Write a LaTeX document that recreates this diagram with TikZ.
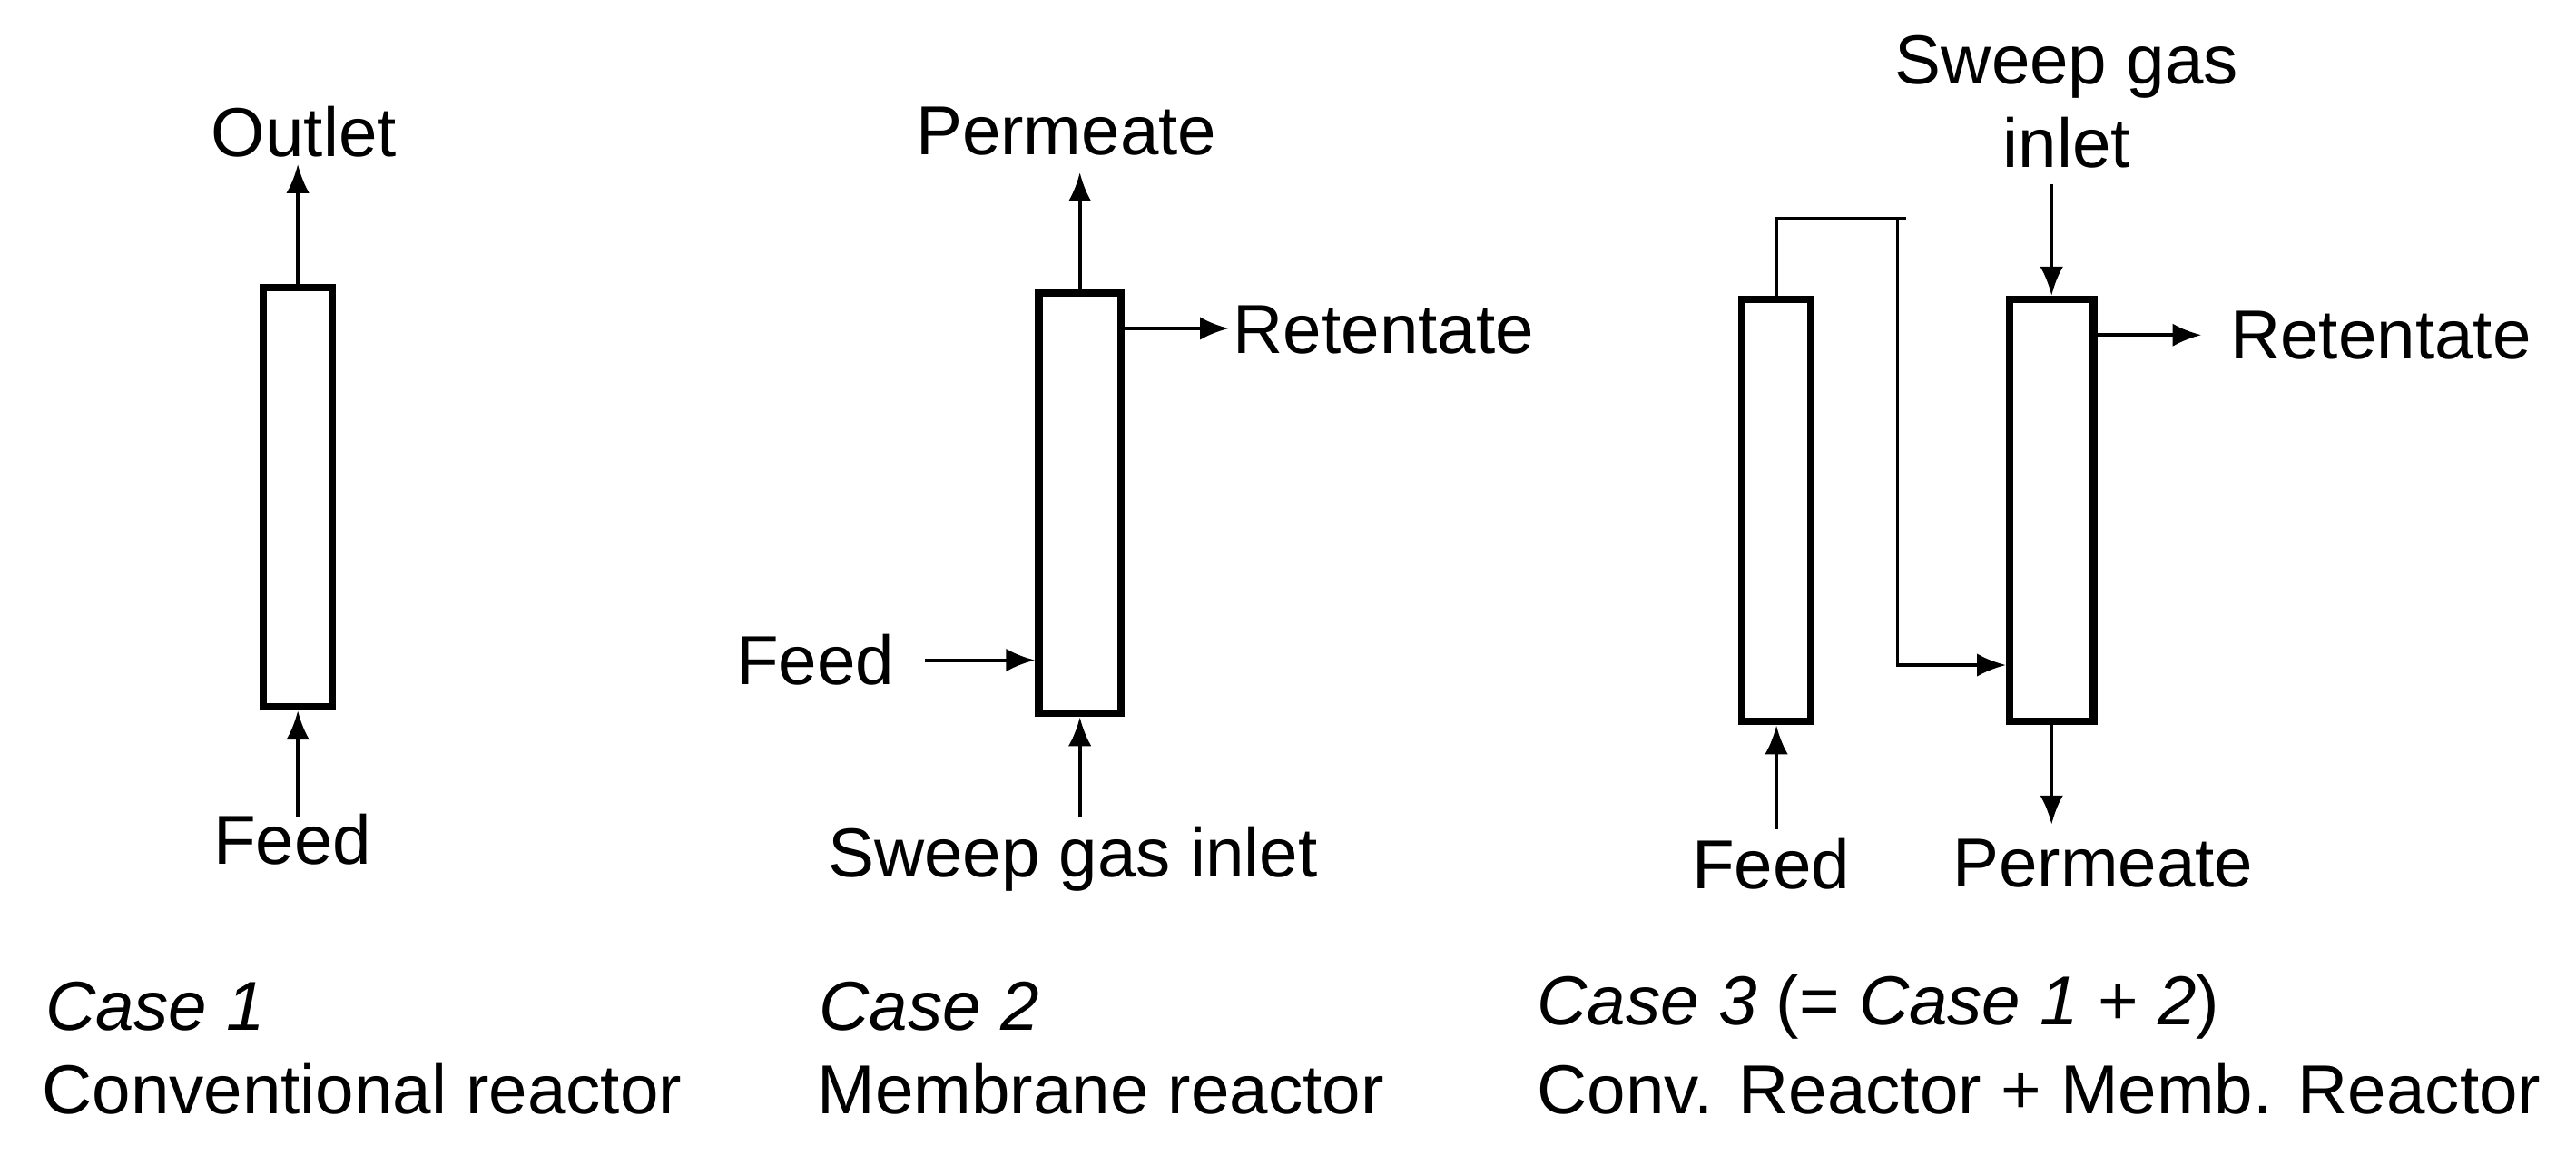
\documentclass[tikz,border=0pt]{standalone}
\usepackage{fontspec}
\setmainfont{Liberation Sans}
\usetikzlibrary{arrows.meta}
\begin{document}
\begin{tikzpicture}[x=0.01cm,y=-0.01cm,
  font=\fontsize{12}{14.5}\selectfont,
  reactor/.style={draw,line width=1.3pt,inner sep=0,anchor=north west},
  flow/.style={line width=0.6pt,-{Latex[length=5pt,width=4pt]}},
  pipe/.style={line width=0.6pt},
  lbl/.style={inner sep=0}]
\useasboundingbox (0,0) rectangle (1568,709);
% Case 1
\node[reactor,minimum width=0.42cm,minimum height=2.55cm] (r1) at (158,173) {};
\coordinate (o1) at (r1.north |- 0,100);
\coordinate (f1) at (r1.south |- 0,497);
\draw[flow] (r1.north) -- (o1);
\draw[flow] (f1) -- (r1.south);
\node[lbl] (to1) at (185,80) {Outlet};
\node[lbl] (tf1) at (178,511) {Feed};
% Case 2
\node[reactor,minimum width=0.50cm,minimum height=2.56cm] (r2) at (630,176) {};
\coordinate (p2) at (r2.north |- 0,105);
\coordinate (re2) at (748,200);
\coordinate (f2) at (563,402);
\coordinate (s2) at (r2.south |- 0,498);
\draw[flow] (r2.north) -- (p2);
\draw[flow] (r2.east |- re2) -- (re2);
\draw[flow] (f2) -- (r2.west |- f2);
\draw[flow] (s2) -- (r2.south);
\node[lbl] (tp2) at (649,80) {Permeate};
\node[lbl,anchor=west] (tre2) at (750,201) {Retentate};
\node[lbl,anchor=east] (tf2) at (545,402) {Feed};
\node[lbl] (ts2) at (653,523) {Sweep gas inlet};
% Case 3
\node[reactor,minimum width=0.42cm,minimum height=2.57cm] (r3a) at (1058,180) {};
\node[reactor,minimum width=0.51cm,minimum height=2.57cm] (r3b) at (1221,180) {};
\coordinate (k1) at (r3a.north |- 0,133);
\coordinate (k2) at (1160,133);
\coordinate (k3) at (1155,133);
\coordinate (k4) at (1155,405);
\draw[pipe] (r3a.north) -- (k1) -- (k2);
\draw[flow] (k3) -- (k4) -- (r3b.west |- k4);
\coordinate (s3) at (r3b.north |- 0,112);
\coordinate (re3) at (1340,204);
\coordinate (f3) at (r3a.south |- 0,505);
\coordinate (p3) at (r3b.south |- 0,502);
\draw[flow] (s3) -- (r3b.north);
\draw[flow] (r3b.east |- re3) -- (re3);
\draw[flow] (f3) -- (r3a.south);
\draw[flow] (r3b.south) -- (p3);
\node[lbl,align=center] (ts3) at (1258,62) {Sweep gas\\inlet};
\node[lbl,anchor=west] (tre3) at (1357,204) {Retentate};
\node[lbl] (tf3) at (1078,526) {Feed};
\node[lbl] (tp3) at (1280,526) {Permeate};
% captions
\node[lbl,anchor=west] (c1) at (27,613) {\textit{Case 1}};
\node[lbl,anchor=west] (d1) at (25,663) {Conventional reactor};
\node[lbl,anchor=west] (c2) at (498,613) {\textit{Case 2}};
\node[lbl,anchor=west] (d2) at (497,663) {Membrane reactor};
\node[lbl,anchor=west] (c3) at (935,613) {\textit{Case 3} (= \textit{Case 1} + \textit{2})};
\node[lbl,anchor=west] (d3) at (935,663) {Conv. Reactor + Memb. Reactor};
\end{tikzpicture}
\end{document}
